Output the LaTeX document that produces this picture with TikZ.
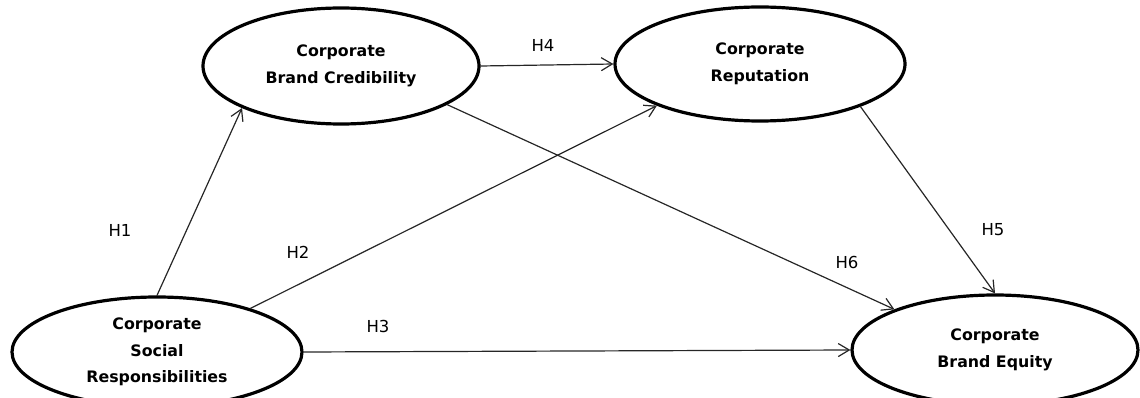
\documentclass[tikz,border=0pt]{standalone}
\usepackage{fontspec}
\setmainfont{DejaVu Sans}
\usetikzlibrary{shapes.geometric,arrows.meta}
\tikzset{
  construct/.style={ellipse,draw,line width=3.2pt,minimum width=284pt,minimum height=112pt,
    align=center,font=\fontsize{15.8}{26.5}\selectfont\bfseries,inner sep=0pt},
  hyp/.style={font=\fontsize{16.5}{18}\selectfont},
  link/.style={draw=black!85,line width=1.2pt,-{Straight Barb[length=11pt,width=13pt,line width=1.2pt]}}
}
\begin{document}
\begin{tikzpicture}[x=1pt,y=-1pt,line join=round,line cap=round]
\useasboundingbox (0,0) rectangle (1140,398);
% constructs
\node[construct,minimum width=276pt,minimum height=116pt] (cred) at (341,66) {Corporate\\Brand Credibility};
\node[construct,minimum width=290pt,minimum height=114pt] (rep) at (760,64) {Corporate\\Reputation};
\node[construct,minimum width=290pt,minimum height=110pt] (csr) at (157,352) {Corporate\\Social\\Responsibilities};
\node[construct,minimum width=286pt,minimum height=110pt] (equity) at (995,350) {Corporate\\Brand Equity};
% paths
\draw[link] (csr.north) -- (cred.203);
\draw[link] (csr.25) -- (rep.202);
\draw[link] (csr.east) -- (equity.west);
\draw[link] (cred.east) -- (rep.west);
\draw[link] (rep.-23) -- (equity.north);
\draw[link] (cred.-20) -- (equity.158);
% hypotheses
\node[hyp] (h1) at (120,230) {H1};
\node[hyp] (h2) at (298,252) {H2};
\node[hyp] (h3) at (378,326) {H3};
\node[hyp] (h4) at (543,45) {H4};
\node[hyp] (h5) at (993,230) {H5};
\node[hyp] (h6) at (847,262) {H6};
\end{tikzpicture}
\end{document}
